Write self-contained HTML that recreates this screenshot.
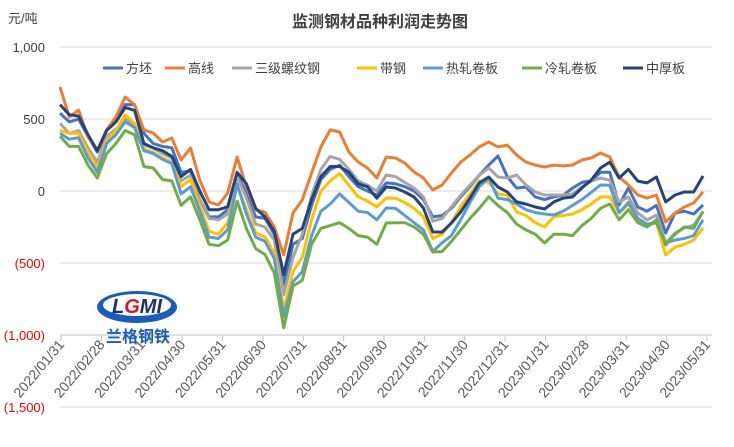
<!DOCTYPE html>
<html><head><meta charset="utf-8"><style>
body{margin:0;background:#fff;}
svg{display:block;font-family:"Liberation Sans","Noto Sans CJK SC",sans-serif;}
</style></head><body>
<svg id="chart" width="734" height="447" viewBox="0 0 734 447">
<text x="380" y="27" text-anchor="middle" font-size="16" font-weight="bold" fill="#404040">监测钢材品种利润走势图</text>
<text x="8" y="23" font-size="13" fill="#404040">元/吨</text>
<g id="grid"></g>
<g id="yt"></g>
<g id="xt"></g>
<g id="series"></g>
<g id="legend"></g>
<g>
<ellipse cx="137" cy="307" rx="40" ry="16" fill="#1a5cb8"/>
<ellipse cx="137" cy="305" rx="34" ry="11" fill="#fff"/>
<text x="137" y="313" text-anchor="middle" font-size="20" font-weight="bold" fill="#1c2f6e" font-style="italic">L<tspan fill="#e0161e">G</tspan>MI</text>
<text x="138" y="342" text-anchor="middle" font-size="16" font-weight="bold" fill="#1a5cb8" font-family="Noto Sans CJK SC, sans-serif">兰格钢铁</text>
</g>
</svg>
<script>
const seriesNames=["方坯","高线","三级螺纹钢","带钢","热轧卷板","冷轧卷板","中厚板"];
const seriesColors=["#4472c4","#ed7d31","#a5a5a5","#ffc000","#5b9bd5","#70ad47","#264478"];
const xLabels=["2022/01/31","2022/02/28","2022/03/31","2022/04/30","2022/05/31","2022/06/30","2022/07/31","2022/08/31","2022/09/30","2022/10/31","2022/11/30","2022/12/31","2023/01/31","2023/02/28","2023/03/31","2023/04/30","2023/05/31"];
const yTicks=[1000,500,0,-500,-1000,-1500];
const fangpi=[540,480,500,380,270,420,480,600,600,400,330,310,300,130,140,-60,-180,-180,-130,120,-20,-180,-190,-300,-650,-370,-330,-100,80,150,180,100,30,0,-30,56,50,30,0,-60,-180,-170,-120,-40,30,110,180,243,100,20,28,-42,-60,-40,-30,20,60,70,130,130,-97,21,-111,-140,-100,-292,-153,-140,-160,-97];
const gaoxian=[722,514,562,375,285,424,514,653,597,424,403,340,368,215,299,76,-76,-97,-14,236,28,-132,-146,-250,-444,-153,-62,125,306,424,410,271,201,160,90,236,229,194,132,90,7,42,125,201,250,306,340,306,319,250,201,180,167,180,174,180,215,229,264,236,97,42,-28,-49,-28,-215,-153,-111,-83,-7];
const luowen=[470,400,420,300,200,380,430,500,450,320,300,260,230,70,110,-60,-190,-200,-160,100,-50,-230,-250,-340,-720,-460,-300,-30,150,240,220,150,70,40,0,111,100,60,20,-40,-210,-190,-110,-30,40,110,160,97,90,111,42,-7,-28,-28,-28,-21,28,69,90,76,-76,-42,-153,-201,-167,-361,-292,-257,-236,-146];
const daigang=[420,400,400,270,160,350,420,530,470,290,270,230,200,30,80,-100,-280,-300,-220,40,-130,-290,-320,-430,-820,-560,-460,-200,0,70,120,40,-40,-70,-110,-49,-50,-80,-120,-180,-330,-300,-220,-110,-20,70,60,-20,-30,-146,-170,-220,-250,-180,-170,-160,-130,-90,-42,-40,-153,-90,-201,-240,-220,-444,-390,-370,-340,-257];
const rezha=[400,360,370,230,130,330,390,480,440,280,260,220,190,-20,30,-140,-320,-330,-270,50,-160,-320,-350,-470,-870,-630,-560,-310,-140,-90,-20,-80,-140,-150,-200,-118,-120,-170,-220,-270,-420,-360,-310,-200,-80,30,90,-50,-60,-90,-130,-150,-160,-167,-140,-100,-60,-10,42,40,-150,-80,-190,-230,-220,-361,-340,-330,-310,-201];
const lengzha=[380,310,310,180,90,260,330,420,390,170,160,80,70,-100,-40,-200,-370,-380,-340,-70,-260,-400,-440,-570,-950,-660,-620,-370,-260,-240,-220,-260,-310,-320,-370,-222,-220,-220,-250,-300,-424,-420,-350,-270,-190,-120,-40,-100,-150,-230,-270,-300,-361,-300,-300,-310,-240,-190,-120,-90,-200,-130,-220,-250,-200,-375,-300,-250,-260,-140];
const zhonghouban=[600,530,520,390,280,420,480,580,560,330,300,280,240,100,150,0,-130,-130,-110,130,50,-120,-180,-280,-580,-300,-260,-60,100,170,170,130,50,30,-50,28,21,-7,-42,-118,-285,-285,-222,-146,-49,56,97,28,-7,-76,-90,-111,-125,-76,-49,-42,21,76,160,201,90,150,69,56,97,-76,-28,-7,-7,104];
const allSeries=[fangpi,gaoxian,luowen,daigang,rezha,lengzha,zhonghouban];
const NS="http://www.w3.org/2000/svg";
function yS(v){return 191-v*0.144;}
function xS(i,n){return 60+i*(643/(n-1));}
function xL(j){return 61+j*((707-61)/(xLabels.length-1));}
function mk(t,a){const e=document.createElementNS(NS,t);for(const k in a)e.setAttribute(k,a[k]);return e;}
const grid=document.getElementById('grid'),yt=document.getElementById('yt'),xt=document.getElementById('xt'),ser=document.getElementById('series'),leg=document.getElementById('legend');
yTicks.forEach(v=>{
  const l=mk('line',{x1:60,x2:712,y1:yS(v),y2:yS(v),stroke:v===-1000?'#bfbfbf':'#d9d9d9','stroke-width':1});
  
  
  grid.appendChild(l);
  const t=mk('text',{x:45,y:yS(v)+5,'text-anchor':'end','font-size':13,fill:v<0?'#ff0000':'#404040'});
  
  
  t.textContent=v<0?'('+Math.abs(v).toLocaleString('en-US')+')':v.toLocaleString('en-US');
  yt.appendChild(t);
});
xLabels.forEach((s,j)=>{
  const x=xL(j);
  const tk=mk('line',{x1:x,x2:x,y1:336,y2:341,stroke:'#bfbfbf'});
  
  
  xt.appendChild(tk);
  const t=mk('text',{x:x+4,y:345,'text-anchor':'end','font-size':14,fill:'#595959',transform:'rotate(-50 '+(x+4)+' 345)'});
  
  
  t.textContent=s;
  xt.appendChild(t);
});
allSeries.forEach((d,k)=>{
  const pts=d.map((v,i)=>xS(i,d.length).toFixed(1)+','+yS(v).toFixed(1)).join(' ');
  const p=mk('polyline',{points:pts,fill:'none',stroke:seriesColors[k],'stroke-width':3,'stroke-linejoin':'round'});
  
  
  ser.appendChild(p);
});
const legX=[103,165,232,357,423,522,623];
seriesNames.forEach((n,k)=>{
  const g=mk('g',{});
  
  
  g.appendChild(mk('line',{x1:legX[k],x2:legX[k]+20,y1:68,y2:68,stroke:seriesColors[k],'stroke-width':3}));
  const t=mk('text',{x:legX[k]+23,y:73,'font-size':13,fill:'#404040'});
  t.textContent=n;
  g.appendChild(t);
  leg.appendChild(g);
});
</script>
</body></html>
